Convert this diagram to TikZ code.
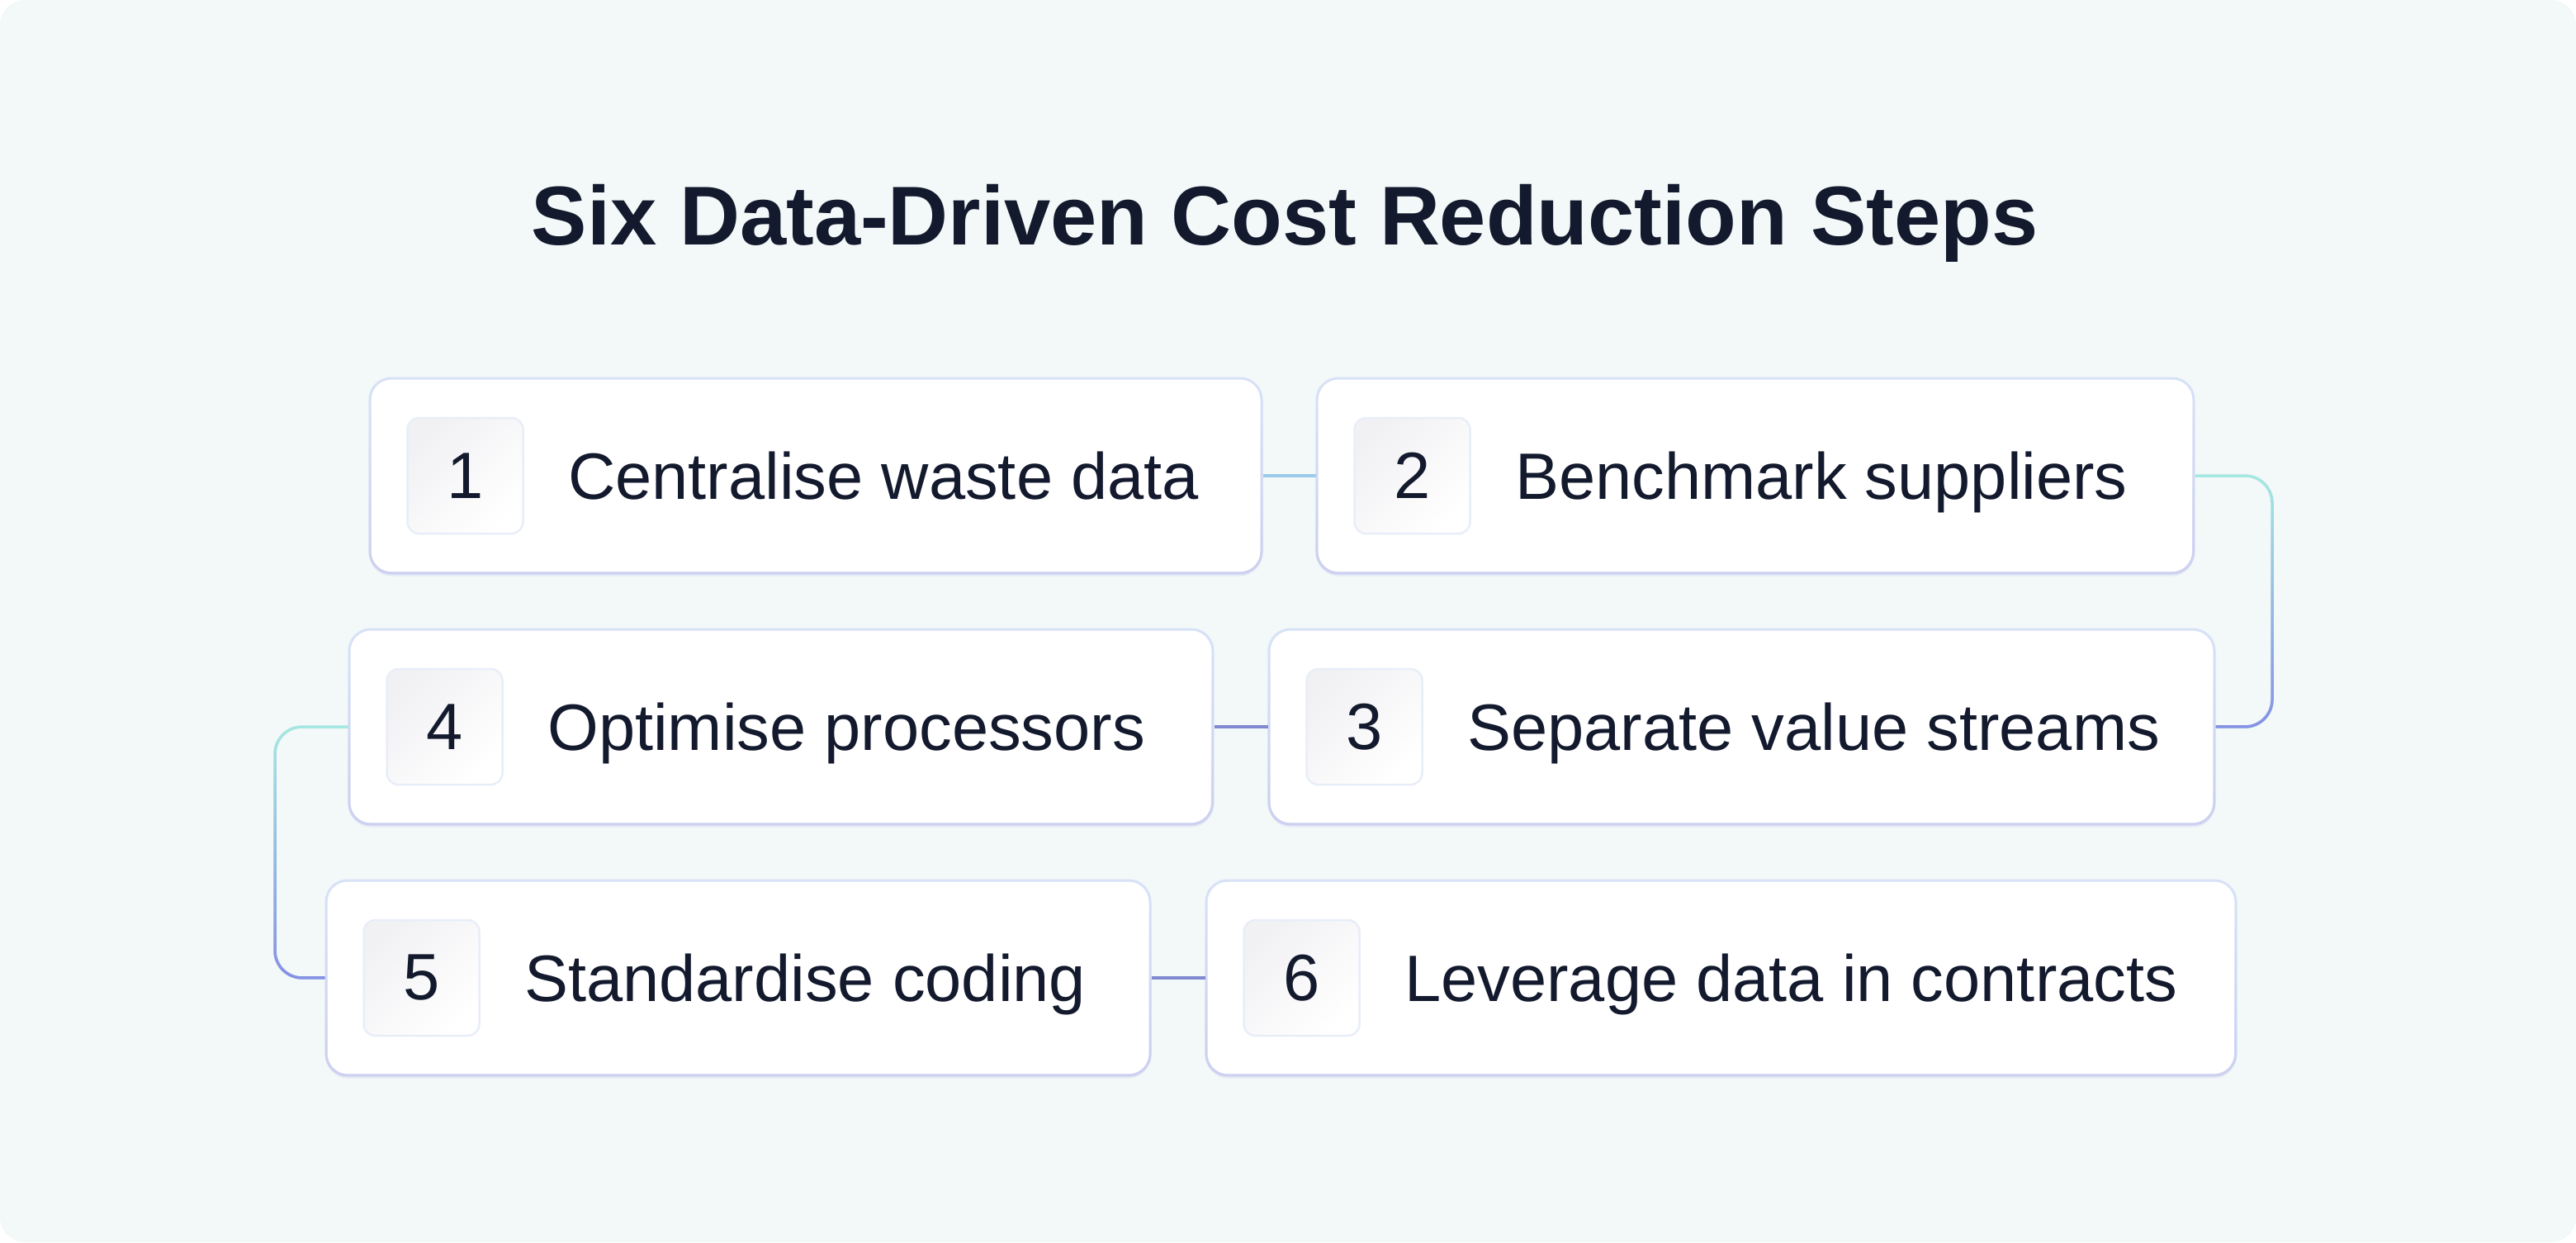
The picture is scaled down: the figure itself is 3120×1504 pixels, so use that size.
\documentclass[tikz,border=0pt]{standalone}
\usepackage{fontspec}
\setmainfont{Liberation Sans}
\usetikzlibrary{positioning,fadings,shadows}

\definecolor{bgtint}{HTML}{F3F8F8}
\definecolor{inkdark}{HTML}{141A2E}
\definecolor{edgetop}{HTML}{D8E3F8}
\definecolor{edgebot}{HTML}{CDD0F0}
\definecolor{linkteal}{HTML}{A6E9E1}
\definecolor{linkindigo}{HTML}{8790E6}
\definecolor{linksky}{HTML}{9DCBEE}
\definecolor{linkslate}{HTML}{8189D2}
\definecolor{numshade}{HTML}{F1F1F4}
\definecolor{numedge}{HTML}{E8EEF8}

\tikzset{
  card/.style={rectangle, rounded corners=2.6mm, draw=edgetop, line width=0.3mm,
    fill=white, minimum height=23.6mm,
    drop shadow={shadow xshift=0mm, shadow yshift=-0.35mm, opacity=0.35, fill=edgebot},
    postaction={draw=edgebot, line width=0.3mm, path fading=north}},
  numtag/.style={rectangle, rounded corners=1.4mm, minimum size=14mm, inner sep=0,
    draw=numedge, line width=0.25mm, top color=numshade, bottom color=white,
    shading angle=45, text=inkdark, font=\fontsize{22.6}{27}\selectfont},
  steptext/.style={anchor=base west, inner sep=0, text=inkdark,
    font=\fontsize{22.6}{27}\selectfont},
  link/.style={line width=0.35mm}
}

\begin{document}
\begin{tikzpicture}[x=0.1mm, y=0.1mm]
\useasboundingbox (0,0) rectangle (3120,1504);
\fill[bgtint, rounded corners=3mm] (0,0) rectangle (3120,1504);

\node[anchor=base, inner sep=0, text=inkdark, font=\bfseries\fontsize{28.75}{34}\selectfont]
  (title) at (1556,1208) {Six Data-Driven Cost Reduction Steps};

% step cards: id / centre x / centre y / width in mm / label
\foreach \id/\cx/\cy/\w/\txt in {
  1/988/928/108/Centralise waste data,
  2/2126/928/106.2/Benchmark suppliers,
  3/2109.5/624/114.5/Separate value streams,
  4/946/624/104.6/Optimise processors,
  5/894/320/99.8/Standardise coding,
  6/2084.5/320/124.7/Leverage data in contracts} {
  \node[card, minimum width=\w mm] (s\id) at (\cx,\cy) {};
  \node[numtag] (n\id) at ([xshift=11.7mm]s\id.west) {\id};
  \node[steptext] (t\id) at ([xshift=24.1mm, yshift=-2.85mm]s\id.west) {\txt};
}

% connectors
\coordinate (turnR) at (2752,0);
\coordinate (turnL) at (333,0);
\draw[link, linksky] (s1.east) -- (s2.west);
\draw[link, linkslate] (s3.west) -- (s4.east);
\draw[link, linkslate] (s5.east) -- (s6.west);
\draw[link, linkteal, rounded corners=3.3mm,
  postaction={draw=linkindigo, path fading=north}]
  (s2.east) -- (s2.east -| turnR) -- (s3.east -| turnR) -- (s3.east);
\draw[link, linkteal, rounded corners=3.3mm,
  postaction={draw=linkindigo, path fading=north}]
  (s4.west) -- (s4.west -| turnL) -- (s5.west -| turnL) -- (s5.west);
\end{tikzpicture}
\end{document}
